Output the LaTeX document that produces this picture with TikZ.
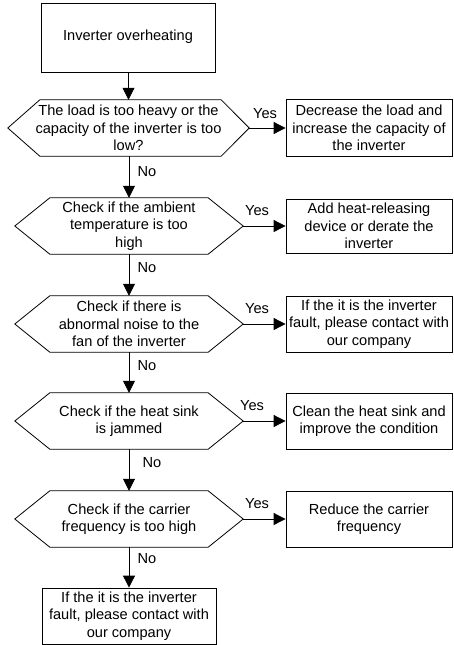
\documentclass[tikz,border=0pt]{standalone}
\usepackage{fontspec}
\setmainfont{Liberation Sans}
\usetikzlibrary{arrows.meta,calc}
\begin{document}
\begin{tikzpicture}[x=1pt,y=-1pt,
  txt/.style={font=\fontsize{14.6}{17.5}\selectfont},
  box/.style={txt, draw, line width=0.8pt, align=center, inner sep=0pt},
  startbox/.style={box, minimum width=174pt, minimum height=69pt},
  actbox/.style={box, minimum width=166pt, minimum height=56pt},
  decnode/.style={txt, align=center, inner sep=0pt, minimum height=56pt},
  hexline/.style={line width=0.8pt},
  arr/.style={line width=0.8pt, -{Triangle[length=12pt,width=12pt]}},
  lbl/.style={txt, inner sep=0pt}
]
\useasboundingbox (0,0) rectangle (453,645);

% start
\node[startbox] (b0) at (128,37.5) {\raisebox{5pt}{Inverter overheating}};

% decisions
\node[decnode, minimum width=241pt] (h1) at (128.5,128) {The load is too heavy or the\\capacity of the inverter is too\\low?};
\node[decnode, minimum width=228pt] (h2) at (129,226) {Check if the ambient\\temperature is too\\high};
\node[decnode, minimum width=228pt] (h3) at (129,324) {Check if there is\\abnormal noise to the\\fan of the inverter};
\node[decnode, minimum width=228pt] (h4) at (129,421) {Check if the heat sink\\is jammed};
\node[decnode, minimum width=228pt] (h5) at (129,519) {Check if the carrier\\frequency is too high};

\draw[hexline] (h1.west) -- ($(h1.north west)+(32,0)$) -- ($(h1.north east)+(-28,0)$) -- (h1.east) -- ($(h1.south east)+(-28,0)$) -- ($(h1.south west)+(32,0)$) -- cycle;
\foreach \h in {h2,h3,h4,h5}{
  \draw[hexline] (\h.west) -- ($(\h.north west)+(35,0)$) -- ($(\h.north east)+(-35,0)$) -- (\h.east) -- ($(\h.south east)+(-35,0)$) -- ($(\h.south west)+(35,0)$) -- cycle;
}

% actions
\node[actbox, minimum height=57pt] (r1) at (369,128) {Decrease the load and\\increase the capacity of\\the inverter};
\node[actbox, minimum height=54pt] (r2) at (369,226) {Add heat-releasing\\device or derate the\\inverter};
\node[actbox] (r3) at (369,324) {If the it is the inverter\\fault, please contact with\\our company};
\node[actbox] (r4) at (369,421) {Clean the heat sink and\\improve the condition};
\node[actbox] (r5) at (369,519) {Reduce the carrier\\frequency};

% end
\node[startbox, minimum height=56pt] (b6) at (129,616) {If the it is the inverter\\fault, please contact with\\our company};

% vertical arrows
\draw[arr] (b0.south -| h1.north) -- (h1.north);
\draw[arr] (h1.south -| h2.north) -- (h2.north);
\draw[arr] (h2.south) -- (h3.north);
\draw[arr] (h3.south) -- (h4.north);
\draw[arr] (h4.south) -- (h5.north);
\draw[arr] (h5.south) -- (b6.north);

% yes arrows
\draw[arr] (h1.east) -- (r1.west);
\draw[arr] (h2.east) -- (r2.west);
\draw[arr] (h3.east) -- (r3.west);
\draw[arr] (h4.east) -- (r4.west);
\draw[arr] (h5.east) -- (r5.west);

% labels
\node[lbl] (y1) at (265,114) {Yes};
\node[lbl] (y2) at (257,211) {Yes};
\node[lbl] (y3) at (257,309) {Yes};
\node[lbl] (y4) at (252,406) {Yes};
\node[lbl] (y5) at (257,504) {Yes};
\node[lbl] (n1) at (147,172) {No};
\node[lbl] (n2) at (147,268) {No};
\node[lbl] (n3) at (147,366) {No};
\node[lbl] (n4) at (152,463) {No};
\node[lbl] (n5) at (147,559) {No};
\end{tikzpicture}
\end{document}
